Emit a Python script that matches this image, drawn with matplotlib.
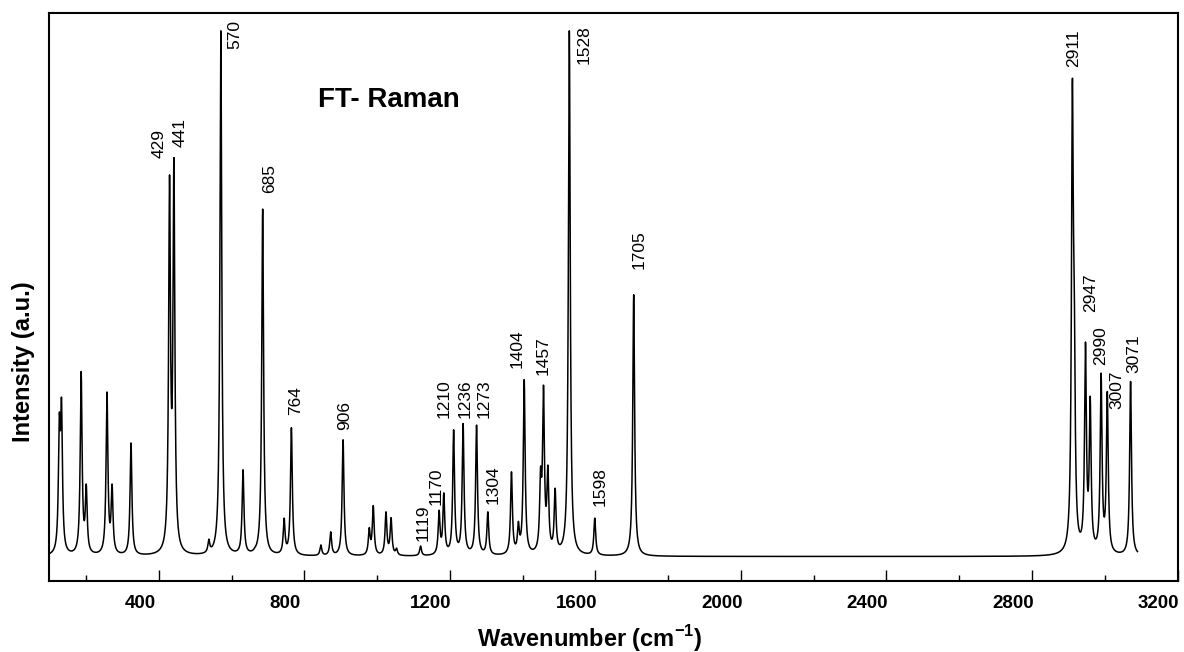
import matplotlib

matplotlib.use("Agg")

import matplotlib.pyplot as plt
import matplotlib.transforms as mtransforms
import numpy as np
from matplotlib.ticker import MultipleLocator

plt.rcParams["font.family"] = ["Liberation Sans", "DejaVu Sans"]
plt.rcParams["mathtext.fontset"] = "custom"
plt.rcParams["mathtext.rm"] = "Liberation Sans"
plt.rcParams["mathtext.bf"] = "Liberation Sans:bold"

# Band positions (cm-1) and apparent peak heights (a.u., tallest = 100)
peak_pos = [126, 132, 186, 200, 257, 271, 323, 429, 441, 537, 570, 631, 664, 685,
            744, 764, 845, 872, 906, 978, 989, 1024, 1038, 1053, 1119, 1170, 1183,
            1210, 1236, 1273, 1304, 1369, 1388, 1395, 1404, 1449, 1457, 1469, 1489,
            1528, 1598, 1705, 2911, 2916, 2947, 2960, 2990, 3007, 3071]
peak_top = [27.3, 30.2, 35.2, 13.8, 31.3, 13.8, 21.6, 72.6, 75.9, 3.3, 100.0, 16.5, 1.8, 66.1,
            7.3, 24.5, 2.2, 4.7, 22.2, 5.5, 9.7, 8.5, 7.4, 1.6, 2.0, 8.8, 12.1,
            24.1, 25.3, 25.0, 8.5, 16.1, 6.6, 4.0, 33.6, 17.1, 32.6, 17.4, 13.0,
            100.0, 7.3, 49.8, 90.9, 54.0, 40.8, 30.5, 34.9, 31.4, 33.3]

# Bands that carry a wavenumber label
labelled = [429, 441, 570, 685, 764, 906, 1119, 1170, 1210, 1236, 1273, 1304,
            1404, 1457, 1528, 1598, 1705, 2911, 2947, 2990, 3007, 3071]

x_start, x_end = 100, 3090
hwhm = 3.0

# label nudges in pixels (dx, dy above the band top)
label_nudge = {
    429: (-10, 17), 441: (6, 11), 570: (14, -18), 685: (7, 16), 764: (4, 13),
    906: (2, 10), 1119: (3, 5), 1170: (-3, 5), 1210: (-10, 12), 1236: (2, 6),
    1273: (8, 7), 1304: (5, 8), 1404: (-7, 12), 1457: (0, 10), 1528: (15, -33),
    1598: (5, 12), 1705: (5, 26), 2911: (1, 12), 2947: (5, 30), 2990: (0, 8),
    3007: (10, -18), 3071: (3, 8),
}


def lorentz(x, x0, g):
    return 1.0 / (1.0 + ((x - x0) / g) ** 2)


pos = np.asarray(peak_pos, dtype=float)
top = np.asarray(peak_top, dtype=float)
# amplitudes such that the summed curve passes through the read heights
mix = lorentz(pos[:, None], pos[None, :], hwhm)
amp = np.clip(np.linalg.solve(mix, top), 0, None)

wn = np.arange(x_start, x_end + 0.25, 0.25)
spec = (amp[None, :] * lorentz(wn[:, None], pos[None, :], hwhm)).sum(axis=1)

fig = plt.figure(figsize=(11.84, 6.52), dpi=100)
ax = fig.add_axes([49 / 1184, 1 - 581 / 652, 1128.5 / 1184, 568 / 652])
ax.plot(wn, spec, color="black", lw=1.1)

ax.set_xlim(97.6, 3200)
ax.set_ylim(-4.66, 103.4)
ax.set_yticks([])
ax.xaxis.set_major_locator(MultipleLocator(400))
ax.xaxis.set_minor_locator(MultipleLocator(200))
ax.tick_params(axis="x", which="both", direction="in", top=False, width=1.0, pad=10,
               labelsize=13.5)
ax.tick_params(axis="x", which="major", length=8)
ax.tick_params(axis="x", which="minor", length=4.5)
for sp in ax.spines.values():
    sp.set_linewidth(1.5)

# tick labels in the original sit a bit left of their ticks
shift = mtransforms.ScaledTranslation(-19 / 100, 0, fig.dpi_scale_trans)
for tick in ax.xaxis.get_major_ticks():
    tick.label1.set_transform(tick.label1.get_transform() + shift)
    tick.label1.set_fontweight("bold")

ax.set_xlabel(r"Wavenumber (cm$^{\mathbf{-1}}$)", fontsize=17, fontweight="bold")
ax.xaxis.set_label_coords(0.479, -0.074)
ax.set_ylabel("Intensity (a.u.)", fontsize=17, fontweight="bold")
ax.yaxis.set_label_coords(-0.012, 0.386)

ax.text(837, 85.5, "FT- Raman", fontsize=20, fontweight="bold", ha="left", va="baseline")

for p in labelled:
    ytop = np.interp(p, wn, spec)
    dx, dy = label_nudge.get(p, (3, 10))
    ax.annotate(str(p), xy=(p, ytop), xytext=(dx * 0.72, dy * 0.72),
                textcoords="offset points", rotation=90, ha="center", va="bottom",
                fontsize=12.5)

fig.savefig("out.png", dpi=100)
